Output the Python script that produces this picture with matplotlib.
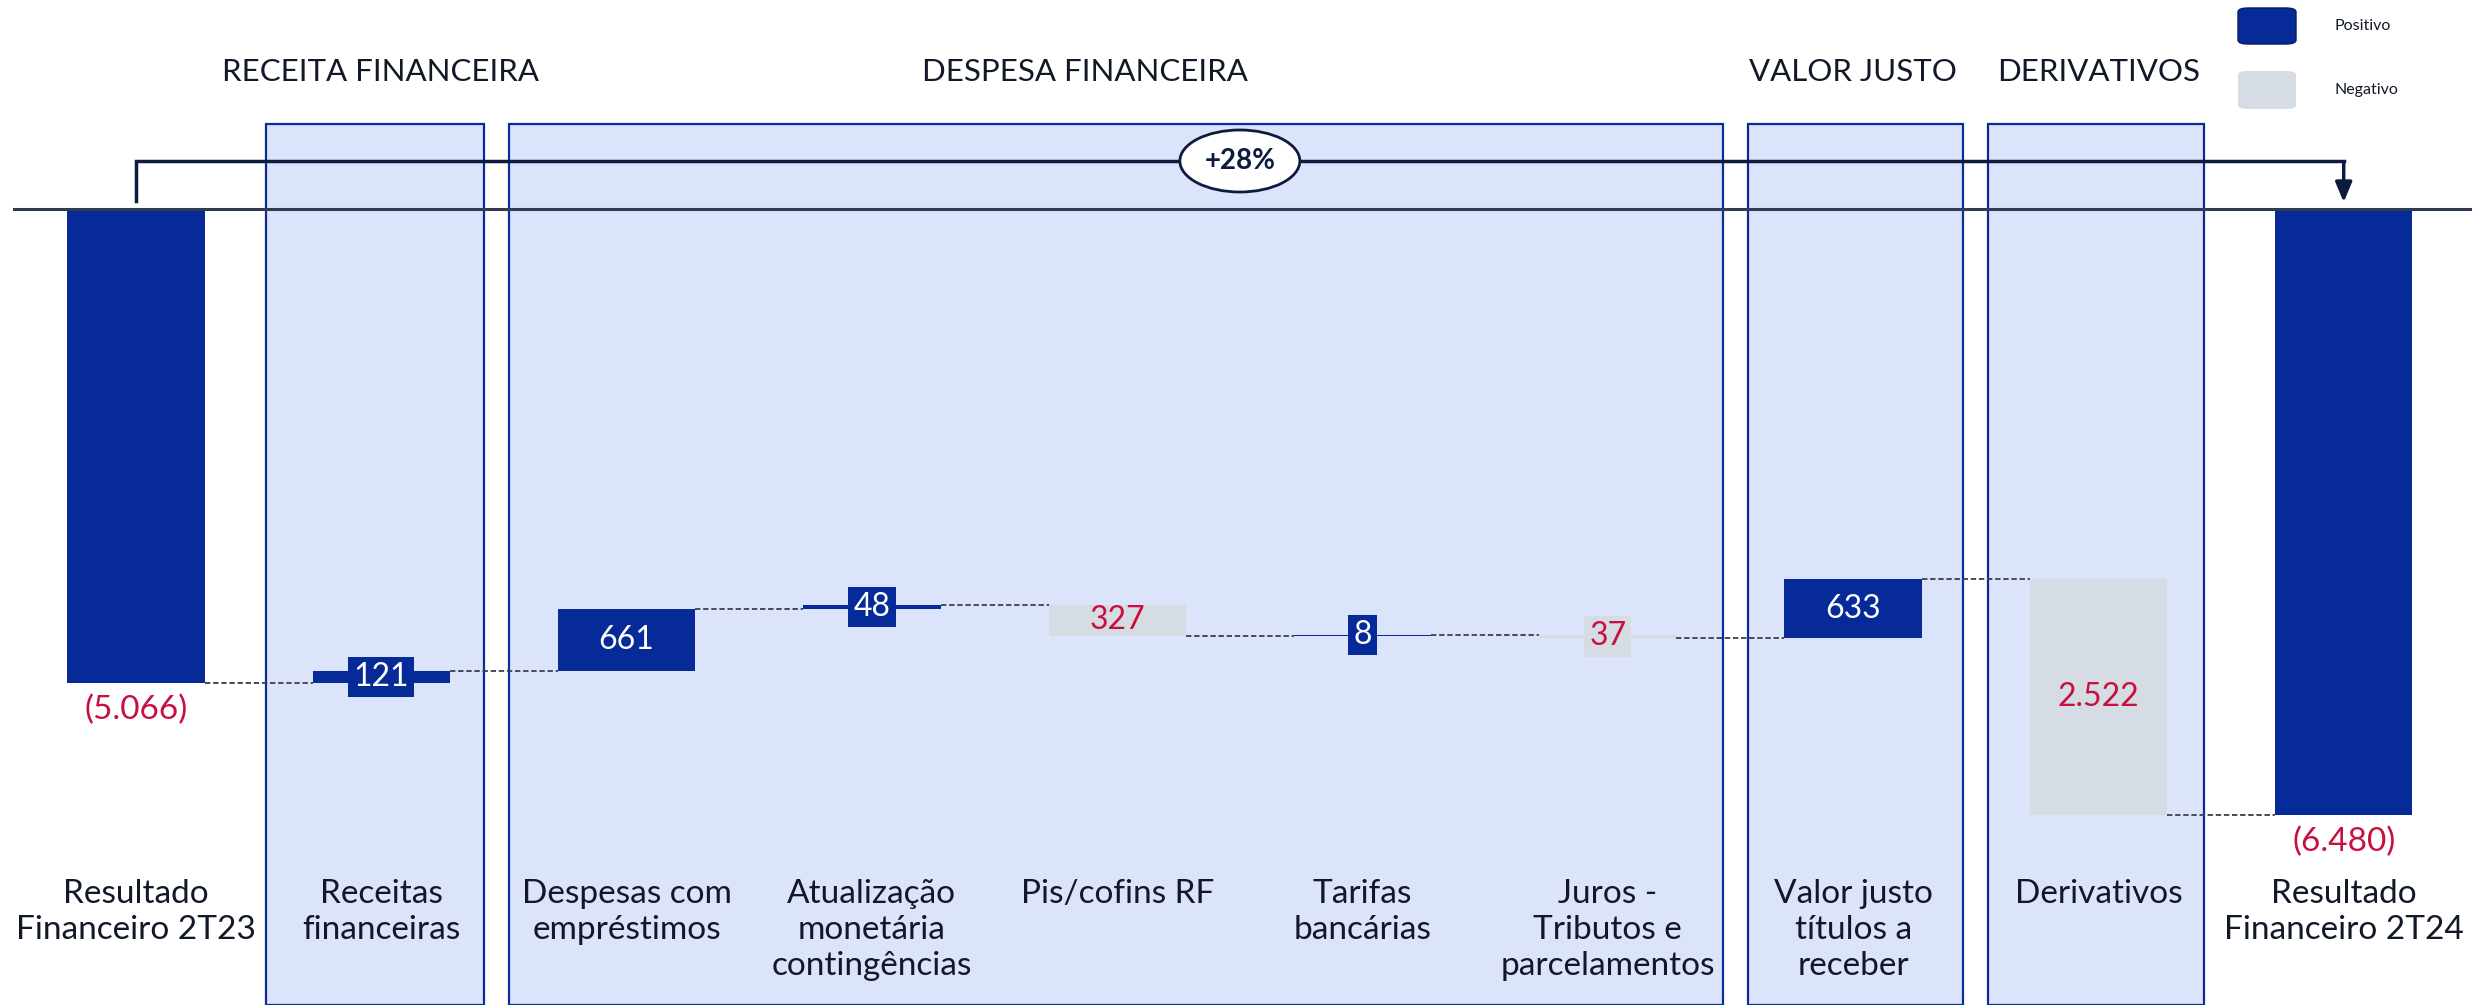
"""
Resultado financeiro 2T23 -> 2T24 (waterfall)
"""
import numpy as np
import matplotlib
matplotlib.use("Agg")
import matplotlib.pyplot as plt
from matplotlib.patches import Rectangle, Ellipse, FancyBboxPatch

plt.rcParams['font.family'] = ['Lato', 'DejaVu Sans']

categories = ["Resultado\nFinanceiro 2T23", "Receitas\nfinanceiras", "Despesas com\nempréstimos",
              "Atualização\nmonetária\ncontingências", "Pis/cofins RF", "Tarifas\nbancárias",
              "Juros -\nTributos e\nparcelamentos", "Valor justo\ntítulos a\nreceber",
              "Derivativos", "Resultado\nFinanceiro 2T24"]
values = [-5066, 121, 661, 48, -327, 8, -37, 633, -2522, -6480]
value_labels = ["(5.066)", "121", "661", "48", "327", "8", "37", "633", "2.522", "(6.480)"]
is_total = [True, False, False, False, False, False, False, False, False, True]
groups = ["RECEITA FINANCEIRA", "DESPESA FINANCEIRA", "VALOR JUSTO", "DERIVATIVOS"]
growth_label = "+28%"

BLUE = '#062A98'
GRAY = '#D6DCE4'
RED = '#C8103E'
BOX = '#DCE4FC'
BOXEDGE = '#0B2B9C'
DARK = '#111827'

# figure 2481x1005, axes over the full canvas
W, H = 2481, 1005
fig = plt.figure(figsize=(W / 100, H / 100), dpi=100)
ax = fig.add_axes([0, 0, 1, 1])
px_x = 245.3          # pixels per category
px_y = 0.09347        # pixels per unit
x0_px, y0_px = 136, 209
ax.set_xlim(-x0_px / px_x, (W - x0_px) / px_x)
ax.set_ylim(-(H - y0_px) / px_y, y0_px / px_y)
ax.axis('off')

def ypx(p):
    # pixel row (from top) -> data value
    return (y0_px - p) / px_y

# group boxes
box_spans = [(0.53, 1.42), (1.52, 6.47), (6.57, 7.45), (7.55, 8.43)]
group_x = [0.995, 3.87, 7.0, 8.0]
for (a, b), g, gx in zip(box_spans, groups, group_x):
    ax.add_patch(Rectangle((a, ax.get_ylim()[0]), b - a, ypx(124) - ax.get_ylim()[0],
                           facecolor=BOX, edgecolor=BOXEDGE, lw=1.6, zorder=1))
    ax.text(gx, ypx(72), g, ha='center', va='center', fontsize=22.5, color=DARK)

# waterfall bars
bw = 0.56
x = np.arange(len(values))
level = 0
levels = []
for i, v in enumerate(values):
    if is_total[i]:
        bottom, height = 0, v
        level = v
        color = BLUE
    else:
        bottom, height = level, v
        level = level + v
        color = BLUE if v > 0 else GRAY
    levels.append(level)
    ax.bar(x[i], height, bottom=bottom, width=bw, color=color, zorder=3)
    if is_total[i]:
        ax.text(x[i], v - 12 / px_y, value_labels[i], ha='center', va='top',
                fontsize=24, color=RED, zorder=5)
    else:
        tc = 'white' if v > 0 else RED
        mid = bottom + height / 2
        if abs(v) < 200:
            ax.text(x[i], mid, value_labels[i], ha='center', va='center', fontsize=23,
                    color=tc, zorder=5,
                    bbox=dict(boxstyle='square,pad=0.16', facecolor=color, edgecolor='none'))
        else:
            ax.text(x[i], mid, value_labels[i], ha='center', va='center', fontsize=23,
                    color=tc, zorder=5)

# dashed connectors
for i in range(len(values) - 1):
    ax.plot([x[i] + bw / 2, x[i + 1] - bw / 2], [levels[i], levels[i]],
            ls=(0, (3, 1.5)), color='#3a3f4a', lw=1.3, zorder=4)

# baseline
ax.plot([-0.4975, 9.515], [0, 0], color='#2F3B52', lw=2.2, zorder=4)

# category labels
for i, c in enumerate(categories):
    ax.text(x[i], ypx(879), c, ha='center', va='top', fontsize=24, color=DARK,
            linespacing=1.26, zorder=5)

# growth bracket
yb = ypx(161)
ax.plot([0, 0, 9], [ypx(201), yb, yb], color='#0D1B3E', lw=2.5, zorder=6,
        solid_joinstyle='miter')
ax.annotate('', xy=(9, ypx(205)), xytext=(9, yb + 5),
            arrowprops=dict(arrowstyle='-|>,head_width=0.5,head_length=1.2',
                            color='#0D1B3E', lw=2.5), zorder=6)
ax.add_patch(Ellipse((4.5, yb), 120 / px_x, 62 / px_y, facecolor='white',
                     edgecolor='#0D1B3E', lw=2, zorder=7))
ax.text(4.5, yb, growth_label, ha='center', va='center', fontsize=20, fontweight='bold',
        color='#0D1B3E', zorder=8)

# legend
for (top, bot), col, lab in [((8, 44), BLUE, "Positivo"), ((71, 109), GRAY, "Negativo")]:
    fig.patches.append(FancyBboxPatch((2238 / W, 1 - bot / H), 58 / W, (bot - top) / H,
                                      boxstyle='round,pad=0,rounding_size=0.004',
                                      facecolor=col, edgecolor='#0a1a5a' if col == BLUE else 'none',
                                      lw=1, transform=fig.transFigure, figure=fig))
    fig.text(2335 / W, 1 - (top + bot) / 2 / H, lab, ha='left', va='center',
             fontsize=11.5, color=DARK)

fig.savefig('out.png', dpi=100)
